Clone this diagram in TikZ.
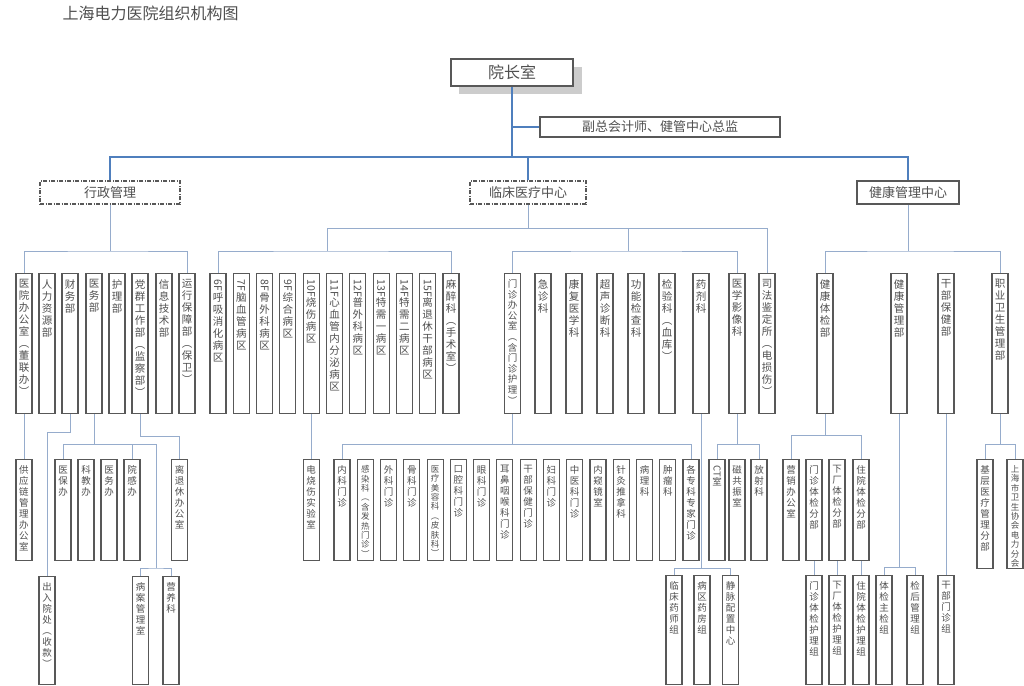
\documentclass[tikz,border=0pt]{standalone}
\usepackage{fontspec}
\setmainfont{Noto Sans CJK SC}
\usepackage{graphicx}
\makeatletter
\newcommand\VT[1]{\@tfor\vt@c:=#1\do{\vt@c\par}}
\makeatother
\newcommand\RT[1]{\rotatebox[origin=c]{-90}{#1}}
\newcommand\fA{\fontsize{10.5}{12}\selectfont}
\newcommand\fAs{\fontsize{9.5}{10.6}\selectfont}
\newcommand\fB{\fontsize{9.5}{11}\selectfont}
\newcommand\fC{\fontsize{8.5}{9.4}\selectfont}
\definecolor{thickblue}{RGB}{79,127,189}
\definecolor{thinblue}{RGB}{150,172,204}
\definecolor{boxline}{RGB}{88,88,88}
\definecolor{txt}{RGB}{80,80,80}
\tikzset{
 vbox/.style={draw=boxline, line width=1.1pt, fill=white, inner sep=0pt, anchor=north, text=txt},
 ln/.style={draw=thinblue, line width=0.9pt},
 tk/.style={draw=thickblue, line width=2pt},
 hbox/.style={draw=boxline, fill=white, inner sep=0pt, text=txt, font=\fontsize{13}{13}\selectfont},
 dbox/.style={hbox, line width=1.2pt, dash pattern=on 4pt off 1.5pt on 1pt off 1.5pt},
}
\newcommand\VB[6]{\node[vbox] (#1) at (#2,#3) {\parbox[t][#4pt][t]{16pt}{\centering#5\vspace*{6pt}\VT{#6}}};}
\begin{document}
\begin{tikzpicture}[x=1pt,y=-1pt]
\useasboundingbox (0,0) rectangle (1024,685);
\fill[white] (0,0) rectangle (1024,685);
\node[anchor=west, font=\fontsize{16}{16}\selectfont, text=txt] (title) at (59,13) {上海电力医院组织机构图};
% top level
\fill[black!20] (459,67) rectangle (582,94);
\node[hbox, line width=1.7pt, minimum width=122pt, minimum height=27pt, font=\fontsize{16}{16}\selectfont] (yz) at (512,72.5) {院长室};
\node[hbox, line width=1.2pt, minimum width=240pt, minimum height=20pt] (fz) at (660,127) {副总会计师、健管中心总监};
\node[dbox, minimum width=140pt, minimum height=23pt] (xz) at (110,192.5) {行政管理};
\node[dbox, minimum width=116pt, minimum height=23pt] (lc) at (528,192.5) {临床医疗中心};
\node[hbox, line width=1.8pt, minimum width=102pt, minimum height=23pt] (jk) at (908,192.5) {健康管理中心};
\draw[tk] (yz.south) -- (yz.south |- 0,157);
\draw[tk] (fz.west) -- (yz.south |- fz.west);
\draw[tk] (xz.north) |- (jk.north |- 0,157) -- (jk.north);
\draw[tk] (lc.north) -- (lc.north |- 0,157);
% admin row
\VB{a1}{24}{273}{140}{\fA}{医院办公室︵董联办︶}
\VB{a2}{47}{273}{140}{\fA}{人力资源部}
\VB{a3}{70}{273}{140}{\fA}{财务部}
\VB{a4}{94}{273}{140}{\fA}{医务部}
\VB{a5}{117}{273}{140}{\fA}{护理部}
\VB{a6}{140}{273}{140}{\fA}{党群工作部︵监察部︶}
\VB{a7}{164}{273}{140}{\fA}{信息技术部}
\VB{a8}{187}{273}{140}{\fA}{运行保障部︵保卫︶}
% wards
\VB{w1}{218}{273}{140}{\fA}{{\RT{6F}}呼吸消化病区}
\VB{w2}{241.3}{273}{140}{\fA}{{\RT{7F}}脑血管病区}
\VB{w3}{264.6}{273}{140}{\fA}{{\RT{8F}}骨外科病区}
\VB{w4}{287.9}{273}{140}{\fA}{{\RT{9F}}综合病区}
\VB{w5}{311.2}{273}{140}{\fA}{{\RT{10F}}烧伤病区}
\VB{w6}{334.5}{273}{140}{\fA}{{\RT{11F}}心血管内分泌病区}
\VB{w7}{357.8}{273}{140}{\fA}{{\RT{12F}}普外科病区}
\VB{w8}{381.1}{273}{140}{\fA}{{\RT{13F}}特需一病区}
\VB{w9}{404.4}{273}{140}{\fA}{{\RT{14F}}特需二病区}
\VB{w10}{427.7}{273}{140}{\fA}{{\RT{15F}}离退休干部病区}
\VB{w11}{451}{273}{140}{\fA}{麻醉科︵手术室︶}
% clinical
\VB{c1}{512.5}{273}{140}{\fAs}{门诊办公室︵含门诊护理︶}
\VB{c2}{543}{273}{140}{\fA}{急诊科}
\VB{c3}{574}{273}{140}{\fA}{康复医学科}
\VB{c4}{605}{273}{140}{\fA}{超声诊断科}
\VB{c5}{636}{273}{140}{\fA}{功能检查科}
\VB{c6}{667}{273}{140}{\fA}{检验科︵血库︶}
\VB{c7}{701}{273}{140}{\fA}{药剂科}
\VB{c8}{737}{273}{140}{\fA}{医学影像科}
\VB{c9}{767}{273}{140}{\fA}{司法鉴定所︵电损伤︶}
% health
\VB{h1}{825}{273}{140}{\fA}{健康体检部}
\VB{h2}{899}{273}{140}{\fA}{健康管理部}
\VB{h3}{946}{273}{140}{\fA}{干部保健部}
\VB{h4}{1000}{273}{140}{\fA}{职业卫生管理部}
% second level buses
\draw[ln] (xz.south) -- (xz.south |- 0,251);
\draw[ln] (a1.north) |- (xz.south |- 0,251) -| (a8.north);
\coordinate (wj) at (327,228);
\coordinate (cj) at (628,228);
\draw[ln] (lc.south) -- (lc.south |- 0,228);
\draw[ln] (wj) -| (c9.north);
\draw[ln] (wj) -- (wj |- 0,251);
\draw[ln] (w1.north) |- (wj |- 0,251) -| (w11.north);
\draw[ln] (cj) -- (cj |- 0,251);
\draw[ln] (c1.north) |- (cj |- 0,251) -| (c8.north);
\draw[ln] (jk.south) -- (jk.south |- 0,251);
\draw[ln] (h1.north) |- (jk.south |- 0,251) -| (h4.north);
% row 2
\VB{g1}{24}{459}{101}{\fB}{供应链管理办公室}
\VB{m1}{63}{459}{101}{\fB}{医保办}
\VB{m2}{86}{459}{101}{\fB}{科教办}
\VB{m3}{109}{459}{101}{\fB}{医务办}
\VB{m4}{132}{459}{101}{\fB}{院感办}
\VB{lt}{179.5}{459}{101}{\fB}{离退休办公室}
\VB{e1}{311.2}{459}{101}{\fB}{电烧伤实验室}
\VB{o1}{342}{459}{101}{\fB}{内科门诊}
\VB{o2}{365.3}{459}{101}{\fC}{感染科︵含发热门诊︶}
\VB{o3}{388.5}{459}{101}{\fB}{外科门诊}
\VB{o4}{411.8}{459}{101}{\fB}{骨科门诊}
\VB{o5}{435.1}{459}{101}{\fC}{医疗美容科︵皮肤科︶}
\VB{o6}{458.4}{459}{101}{\fB}{口腔科门诊}
\VB{o7}{481.6}{459}{101}{\fB}{眼科门诊}
\VB{o8}{504.9}{459}{101}{\fB}{耳鼻咽喉科门诊}
\VB{o9}{528.2}{459}{101}{\fB}{干部保健门诊}
\VB{o10}{551.4}{459}{101}{\fB}{妇科门诊}
\VB{o11}{574.7}{459}{101}{\fB}{中医科门诊}
\VB{o12}{598}{459}{101}{\fB}{内窥镜室}
\VB{o13}{621.2}{459}{101}{\fB}{针灸推拿科}
\VB{o14}{644.5}{459}{101}{\fB}{病理科}
\VB{o15}{667.8}{459}{101}{\fB}{肿瘤科}
\VB{o16}{691}{459}{101}{\fB}{各专科专家门诊}
\VB{ct}{717}{459}{101}{\fB}{{\RT{CT}}室}
\VB{mr}{737}{459}{101}{\fB}{磁共振室}
\VB{fs}{759}{459}{101}{\fB}{放射科}
\VB{k1}{791}{459}{101}{\fB}{营销办公室}
\VB{k2}{814}{459}{101}{\fB}{门诊体检分部}
\VB{k3}{837}{459}{101}{\fB}{下厂体检分部}
\VB{k4}{861}{459}{101}{\fB}{住院体检分部}
\VB{z1}{985}{459}{109}{\fB}{基层医疗管理分部}
\VB{z2}{1015}{459}{109}{\fC}{上海市卫生协会电力分会}
% row 3
\VB{r1}{47}{576}{108}{\fB}{出入院处︵收款︶}
\VB{b1}{140.5}{576}{108}{\fB}{病案管理室}
\VB{b2}{171}{576}{108}{\fB}{营养科}
\VB{p1}{674}{575}{109}{\fB}{临床药师组}
\VB{p2}{702}{575}{109}{\fB}{病区药房组}
\VB{p3}{730.5}{575}{109}{\fB}{静脉配置中心}
\VB{q1}{814}{575}{109}{\fB}{门诊体检护理组}
\VB{q2}{837}{575}{109}{\fB}{下厂体检护理组}
\VB{q3}{861}{575}{109}{\fB}{住院体检护理组}
\VB{t1}{884}{575}{109}{\fB}{体检主检组}
\VB{t2}{915}{575}{109}{\fB}{检后管理组}
\VB{gm}{946}{575}{109}{\fB}{干部门诊组}
% lower connectors
\draw[ln] (a1.south) -- (g1.north);
\draw[ln] (a3.south) -- (a3.south |- 0,432) -| (r1.north);
\draw[ln] (a4.south) -- (a4.south |- 0,444);
\coordinate (yr) at (156,444);
\draw[ln] (m1.north) |- (yr) -- (yr |- 0,568);
\draw[ln] (m4.north) -- (m4.north |- yr);
\draw[ln] (b1.north) |- (yr |- 0,568) -| (b2.north);
\draw[ln] (a6.south) -- (a6.south |- 0,436) -| (lt.north);
\draw[ln] (w5.south) -- (e1.north);
\draw[ln] (c1.south) -- (c1.south |- 0,444);
\draw[ln] (o1.north) |- (o16.north |- 0,444) -- (o16.north);
\draw[ln] (c8.south) -- (c8.south |- 0,444);
\draw[ln] (ct.north) |- (fs.north |- 0,444) -- (fs.north);
\draw[ln] (c7.south) -- (c7.south |- 0,568);
\draw[ln] (p1.north) |- (p3.north |- 0,568) -- (p3.north);
\draw[ln] (h1.south) -- (h1.south |- 0,435);
\draw[ln] (k1.north) |- (k4.north |- 0,435) -- (k4.north);
\draw[ln] (k2.south) -- (q1.north);
\draw[ln] (k3.south) -- (q2.north);
\draw[ln] (k4.south) -- (q3.north);
\draw[ln] (h2.south) -- (h2.south |- 0,567);
\draw[ln] (t1.north) |- (t2.north |- 0,567) -- (t2.north);
\draw[ln] (h3.south) -- (gm.north);
\draw[ln] (h4.south) -- (h4.south |- 0,444);
\draw[ln] (z1.north) |- (z2.north |- 0,444) -- (z2.north);
\end{tikzpicture}
\end{document}
